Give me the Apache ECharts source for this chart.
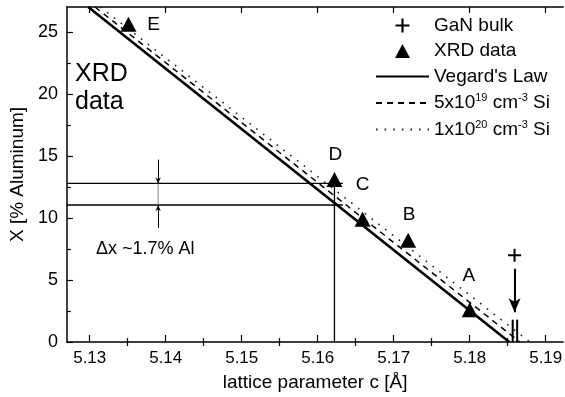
<!DOCTYPE html>
<html>
<head>
<meta charset="utf-8">
<script src="https://cdn.jsdelivr.net/npm/echarts@6/dist/echarts.min.js"></script>
<style>
  html, body { margin: 0; padding: 0; background: #fff; }
  #chart { width: 565px; height: 397px; }
</style>
</head>
<body>
<div id="chart"></div>
<script>
// axis ranges and ticks
const xMin = 5.127, xMax = 5.1923
const yMin = 0, yMax = 27
const xMajor = [5.13, 5.14, 5.15, 5.16, 5.17, 5.18, 5.19]
const xMinor = [5.135, 5.145, 5.155, 5.165, 5.175, 5.185]
const yMajor = [0, 5, 10, 15, 20, 25]
const yMinor = [2.5, 7.5, 12.5, 17.5, 22.5]

// XRD samples
const xrdNames = ['E', 'D', 'C', 'B', 'A']
const xrdC = [5.1351, 5.1622, 5.1659, 5.1719, 5.1800]
const xrdX = [25.6, 13.1, 9.9, 8.2, 2.6]

// GaN bulk reference
const ganBulk = [[5.1859, 7.0]]
const ganArrow = [[5.1859, 5.9], [5.1859, 2.4]]
const bulkBars = [5.18565, 5.18624]
const bulkBarTop = 1.8

// Vegard lines (c, X)
const vegard = [[5.1298, 27], [5.1852, 0]]
const si5e19 = [[5.1307, 27], [5.1866, 0]]
const si1e20 = [[5.1314, 27], [5.1879, 0]]

// guide lines for D
const levelD = 12.78, levelVeg = 11.04
const guideC = 5.1622, guideEnd = 5.1633, guideTop = 13.5
const deltaC = 5.139, deltaTop = 14.7, deltaBottom = 9.2

const FONT = 'Liberation Sans, Arial, sans-serif'
const INK = '#000'

const chart = echarts.init(document.getElementById('chart'))

const labelOffsets = {E: [25, 0], D: [1, -25], C: [0, -34], B: [1, -25], A: [-1, -34]}

const legendText = {
    'GaN bulk': '{b|GaN bulk}',
    'XRD data': '{b|XRD data}',
    "Vegard's Law": "{b|Vegard's Law}",
    '5x10^19 cm^-3 Si': '{b|5x10}{s|19}{b| cm}{s|-3}{b| Si}',
    '1x10^20 cm^-3 Si': '{b|1x10}{s|20}{b| cm}{s|-3}{b| Si}'
}

const seg = (data, width, extra) => Object.assign({
    type: 'line',
    data: data,
    symbol: 'none',
    silent: true,
    lineStyle: {color: INK, width: width},
    z: 3
}, extra || {})

const xAxisBase = {
    type: 'value', min: xMin, max: xMax,
    splitLine: {show: false},
    axisLabel: {show: false},
    axisLine: {show: false}
}

const option = {
    animation: false,
    textStyle: {fontFamily: FONT},
    grid: {left: 59, top: 7, right: 0, bottom: 55},
    xAxis: [
        Object.assign({}, xAxisBase, {
            position: 'bottom',
            axisLine: {show: true, onZero: false, lineStyle: {color: INK, width: 1.5}},
            axisTick: {show: true, inside: true, length: 7, customValues: xMajor, lineStyle: {color: INK, width: 1.2}},
            axisLabel: {show: true, customValues: xMajor, formatter: v => v.toFixed(2), fontSize: 17, color: INK, margin: 8, fontFamily: FONT},
            name: 'lattice parameter c [Å]',
            nameLocation: 'middle',
            nameGap: 31,
            nameTextStyle: {fontSize: 19, color: INK, fontFamily: FONT}
        }),
        Object.assign({}, xAxisBase, {
            position: 'bottom',
            axisTick: {show: true, inside: true, length: 4, customValues: xMinor, lineStyle: {color: INK, width: 1.2}}
        }),
        Object.assign({}, xAxisBase, {
            position: 'top',
            axisLine: {show: true, onZero: false, lineStyle: {color: INK, width: 1.5}},
            axisTick: {show: true, inside: true, length: 6, customValues: xMajor, lineStyle: {color: INK, width: 1.2}}
        }),
        Object.assign({}, xAxisBase, {
            position: 'top',
            axisTick: {show: true, inside: true, length: 4, customValues: xMinor, lineStyle: {color: INK, width: 1.2}}
        })
    ],
    yAxis: [
        {
            type: 'value', min: yMin, max: yMax,
            splitLine: {show: false},
            axisLine: {show: true, onZero: false, lineStyle: {color: INK, width: 1.5}},
            axisTick: {show: true, inside: true, length: 6, customValues: yMajor, lineStyle: {color: INK, width: 1.2}},
            axisLabel: {customValues: yMajor, fontSize: 18, color: INK, margin: 9, fontFamily: FONT},
            name: 'X [% Aluminum]',
            nameLocation: 'middle',
            nameGap: 37,
            nameTextStyle: {fontSize: 19, color: INK, fontFamily: FONT}
        },
        {
            type: 'value', min: yMin, max: yMax, position: 'left',
            splitLine: {show: false},
            axisLine: {show: false},
            axisLabel: {show: false},
            axisTick: {show: true, inside: true, length: 4, customValues: yMinor, lineStyle: {color: INK, width: 1.2}}
        }
    ],
    legend: {
        orient: 'vertical',
        left: 375,
        top: 16,
        padding: 0,
        itemWidth: 53,
        itemHeight: 14,
        itemGap: 6.5,
        data: [
            {name: 'GaN bulk'},
            {name: 'XRD data'},
            {name: "Vegard's Law", itemStyle: {opacity: 0}},
            {name: '5x10^19 cm^-3 Si', itemStyle: {opacity: 0}},
            {name: '1x10^20 cm^-3 Si', itemStyle: {opacity: 0}}
        ],
        formatter: name => legendText[name],
        textStyle: {
            color: INK,
            fontFamily: FONT,
            fontSize: 19,
            rich: {
                b: {fontSize: 19, lineHeight: 21, color: INK, fontFamily: FONT},
                s: {fontSize: 11, lineHeight: 11, verticalAlign: 'top', color: INK, fontFamily: FONT}
            }
        }
    },
    graphic: [
        {type: 'text', left: 75, top: 60, style: {text: 'XRD\ndata', fontSize: 25, lineHeight: 28, fill: INK, fontFamily: FONT}},
        {type: 'text', left: 96, top: 240, style: {text: 'Δx ~1.7% Al', fontSize: 18, fill: INK, fontFamily: FONT}}
    ],
    series: [
        {
            name: "Vegard's Law", type: 'line', data: vegard, symbol: 'none',
            lineStyle: {color: INK, width: 2.6}, itemStyle: {color: INK}, z: 4
        },
        {
            name: '5x10^19 cm^-3 Si', type: 'line', data: si5e19, symbol: 'none',
            lineStyle: {color: INK, width: 1.5, type: [6, 5]}, itemStyle: {color: INK}, z: 4
        },
        {
            name: '1x10^20 cm^-3 Si', type: 'line', data: si1e20, symbol: 'none',
            lineStyle: {color: '#222', width: 1.6, type: [1.6, 7]}, itemStyle: {color: '#222'}, z: 4
        },
        {
            name: 'GaN bulk', type: 'scatter', data: ganBulk,
            symbol: 'path://M5.5,0H7.5V5.5H13V7.5H7.5V13H5.5V7.5H0V5.5H5.5Z',
            symbolSize: 13, itemStyle: {color: INK, opacity: 1}, z: 6
        },
        {
            name: 'XRD data', type: 'scatter',
            data: xrdNames.map((n, i) => ({
                name: n,
                value: [xrdC[i], xrdX[i]],
                label: {show: true, position: 'inside', offset: labelOffsets[n], formatter: '{b}', fontSize: 19, color: INK, fontFamily: FONT}
            })),
            symbol: 'path://M8,0L16,15H0Z', symbolSize: [16, 15],
            itemStyle: {color: INK, opacity: 1}, z: 6
        },
        // guide lines around sample D
        seg([[xMin, levelD], [guideEnd, levelD]], 1.3),
        seg([[xMin, levelVeg], [guideEnd, levelVeg]], 1.3),
        seg([[guideC, 0], [guideC, guideTop]], 1.3),
        // delta-x marker
        seg([[deltaC, levelD], [deltaC, levelVeg]], 0.8, {lineStyle: {color: '#666', width: 0.8}}),
        seg([], 1, {
            markLine: {
                silent: true, symbol: ['none', 'arrow'], symbolSize: [4, 6],
                label: {show: false},
                lineStyle: {color: INK, width: 1, type: 'solid'},
                data: [
                    [{coord: [deltaC, deltaTop]}, {coord: [deltaC, levelD]}],
                    [{coord: [deltaC, deltaBottom]}, {coord: [deltaC, levelVeg]}]
                ]
            }
        }),
        // GaN bulk arrow and bars
        seg([], 1, {
            markLine: {
                silent: true, symbol: ['none', 'arrow'], symbolSize: [9, 14],
                label: {show: false},
                lineStyle: {color: INK, width: 2, type: 'solid'},
                data: [[{coord: ganArrow[0]}, {coord: ganArrow[1]}]]
            }
        }),
        seg([[bulkBars[0], 0], [bulkBars[0], bulkBarTop]], 2),
        seg([[bulkBars[1], 0], [bulkBars[1], bulkBarTop]], 2)
    ]
}

chart.setOption(option)
</script>
</body>
</html>
